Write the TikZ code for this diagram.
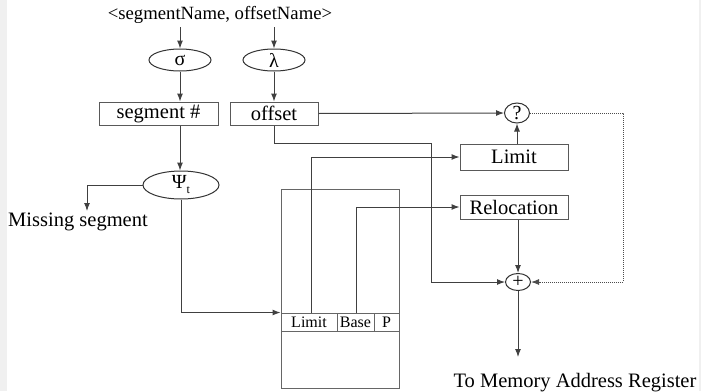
\documentclass[tikz,border=0pt]{standalone}
\usepackage{fontspec}
\setmainfont{Liberation Serif}
\usetikzlibrary{shapes.geometric,arrows.meta}
\begin{document}
\begin{tikzpicture}[x=1pt,y=-1pt,
  wire/.style={draw=black!75, line width=1pt},
  flow/.style={wire, -{Latex[length=8pt,width=6pt]}},
  oval/.style={draw=black!80, line width=1pt, ellipse, inner sep=0pt, font=\fontsize{20}{24}\selectfont},
  field/.style={draw=black!65, line width=1pt, rectangle, inner sep=0pt, font=\fontsize{20.5}{24}\selectfont},
  lbl/.style={inner sep=0pt, font=\fontsize{20.5}{24}\selectfont},
  cell/.style={draw=black!60, line width=1pt, rectangle, inner sep=0pt, font=\fontsize{16}{18}\selectfont},
  dots/.style={draw=black!70, line width=1pt, densely dotted}]
\useasboundingbox (0,0) rectangle (701,391);
\fill[black!6] (0,0) rectangle (7,391);
\fill[black!6] (699,0) rectangle (701,391);

% address pair and the two name maps
\node[inner sep=0pt, font=\fontsize{18.7}{22}\selectfont] (pair) at (220,15) {<segmentName, offsetName>};
\node[oval, minimum width=62pt, minimum height=22pt] (sig) at (180,60) {σ};
\node[oval, minimum width=62pt, minimum height=22pt] (lam) at (274,60) {λ};
\coordinate (pairL) at (180,27);
\coordinate (pairR) at (274,27);

% registers
\node[field, minimum width=119pt, minimum height=23pt] (seg) at (158.5,113.5) {segment \#};
\node[field, minimum width=88pt, minimum height=23pt] (off) at (274,113.5) {offset};

% comparison, limit, relocation and adder
\node[oval, minimum width=25pt, minimum height=20pt] (chk) at (517,113) {?};
\node[field, minimum width=108pt, minimum height=26pt] (lim) at (514,157) {Limit};
\node[field, minimum width=108pt, minimum height=24pt] (rel) at (514,207) {Relocation};
\node[oval, minimum width=25pt, minimum height=17pt] (sum) at (518,282) {+};
\node[lbl] (mar) at (575,383) {To Memory Address Register};
\coordinate (martip) at (518,357);

% segment table lookup
\node[oval, minimum width=76pt, minimum height=28pt] (psi) at (181,185)
  {Ψ\raisebox{-5pt}{\fontsize{12}{14}\selectfont t}};
\node[lbl] (miss) at (78,222) {Missing segment};
\coordinate (misstip) at (87,211);

% segment table with one descriptor row
\node[draw=black!60, line width=1pt, rectangle, inner sep=0pt,
      minimum width=118pt, minimum height=199pt] (tbl) at (340,288.5) {};
\node[cell, minimum width=56pt, minimum height=18pt] (tlim) at (309,322) {Limit};
\node[cell, minimum width=37pt, minimum height=18pt] (tbase) at (355.5,322) {Base};
\node[cell, minimum width=25pt, minimum height=18pt] (tp) at (386.5,322) {P};
\coordinate (limtap) at (311,313);
\coordinate (basetap) at (356,313);

% routing points
\coordinate (obend) at (431,143);
\coordinate (dq) at (623,113);

% connectors
\draw[flow] (pairL) -- (sig.north);
\draw[flow] (pairR) -- (lam.north);
\draw[flow] (sig.south) -- (sig.south |- seg.north);
\draw[flow] (lam.south) -- (off.north);
\draw[flow] (off.east) -- (chk.west);
\draw[flow] (chk.south |- lim.north) -- (chk.south);
\draw[flow] (sum.north |- rel.south) -- (sum.north);
\draw[flow] (sum.south) -- (martip);
\draw[flow] (off.south) |- (obend) |- (sum.west);
\draw[dots, -{Latex[length=8pt,width=6pt]}] (chk.east) -- (dq) |- (sum.east);
\draw[flow] (sig.south |- seg.south) -- (sig.south |- psi.north);
\draw[flow] (psi.west) -| (misstip);
\draw[flow] (psi.south) |- (tlim.north west);
\draw[flow] (limtap) |- (lim.west);
\draw[flow] (basetap) |- (rel.west);
\end{tikzpicture}
\end{document}
